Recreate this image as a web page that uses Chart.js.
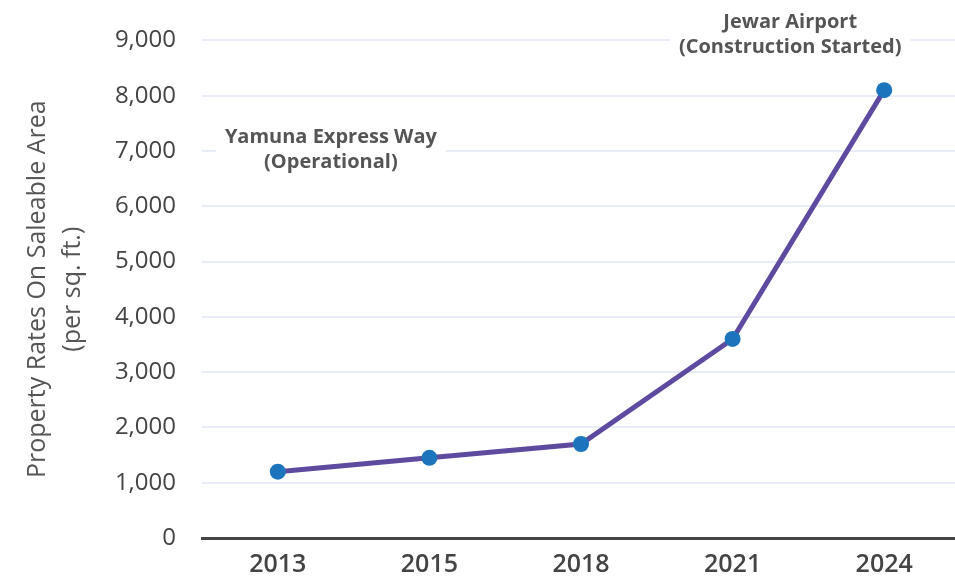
<!DOCTYPE html>
<html>
<head>
<meta charset="utf-8">
<script src="https://cdn.jsdelivr.net/npm/chart.js@4"></script>
<style>
  html, body { margin: 0; padding: 0; background: #fff; overflow: hidden; }
  #wrap { width: 968px; height: 583px; }
</style>
</head>
<body>
<div id="wrap"><canvas id="chart"></canvas></div>
<script>
const years = ['2013', '2015', '2018', '2021', '2024'];
const rates = [1200, 1450, 1700, 3600, 8100];
const yTitle = ['Property Rates On Saleable Area', '(per sq. ft.)'];

// text notes, placed on the scales (category index, value)
const notes = [
    { lines: ['Yamuna Express Way', '(Operational)'], at: 0.35, value: 7020 },
    { lines: ['Jewar Airport', '(Construction Started)'], at: 3.38, value: 9100 }
];

const notesPlugin = {
    id: 'notes',
    beforeDatasetsDraw(chart) {
        const { ctx, scales } = chart;
        ctx.save();
        ctx.font = 'bold 20px "Open Sans"';
        ctx.textAlign = 'center';
        ctx.textBaseline = 'middle';
        notes.forEach(n => {
            const cx = scales.x.getPixelForValue(n.at);
            const cy = scales.y.getPixelForValue(n.value);
            const lh = 25;
            const w = Math.max(...n.lines.map(l => ctx.measureText(l).width)) + 18;
            const h = lh * n.lines.length + 6;
            ctx.fillStyle = '#fff';
            ctx.fillRect(cx - w / 2, cy - h / 2, w, h);
            ctx.fillStyle = '#555';
            n.lines.forEach((l, i) => {
                ctx.fillText(l, cx, cy + (i - (n.lines.length - 1) / 2) * lh);
            });
        });
        ctx.restore();
    }
};

new Chart(document.getElementById('chart').getContext('2d'), {
    type: 'line',
    data: {
        labels: years,
        datasets: [{
            data: rates,
            borderColor: '#5E4BA0',
            borderWidth: 5,
            pointBackgroundColor: '#1C75BC',
            pointBorderColor: '#1C75BC',
            pointRadius: 8,
            pointBorderWidth: 0,
            tension: 0
        }]
    },
    options: {
        responsive: true,
        maintainAspectRatio: false,
        animation: false,
        layout: { padding: { top: 40, right: 0, left: 0, bottom: 0 } },
        plugins: {
            legend: { display: false },
            tooltip: { enabled: false }
        },
        scales: {
            x: {
                offset: true,
                grid: { display: false, drawTicks: false },
                border: { color: '#444', width: 3 },
                ticks: {
                    color: '#444',
                    padding: 12,
                    font: { family: 'Open Sans', size: 25, weight: '600' }
                },
                afterFit(scale) { scale.height = 45; }
            },
            y: {
                min: 0,
                max: 9000,
                grid: { color: '#E8ECF6', lineWidth: 2, drawTicks: false },
                border: { display: false },
                ticks: {
                    stepSize: 1000,
                    color: '#444',
                    padding: 26,
                    font: { family: 'Open Sans', size: 24 },
                    callback: v => v.toLocaleString('en-US')
                },
                title: {
                    display: true,
                    text: yTitle,
                    color: '#555',
                    padding: { top: 20, bottom: 0 },
                    font: { family: 'Open Sans', size: 25, lineHeight: 1.4 }
                },
                afterFit(scale) { scale.width = 202; }
            }
        }
    },
    plugins: [notesPlugin]
});
</script>
</body>
</html>
